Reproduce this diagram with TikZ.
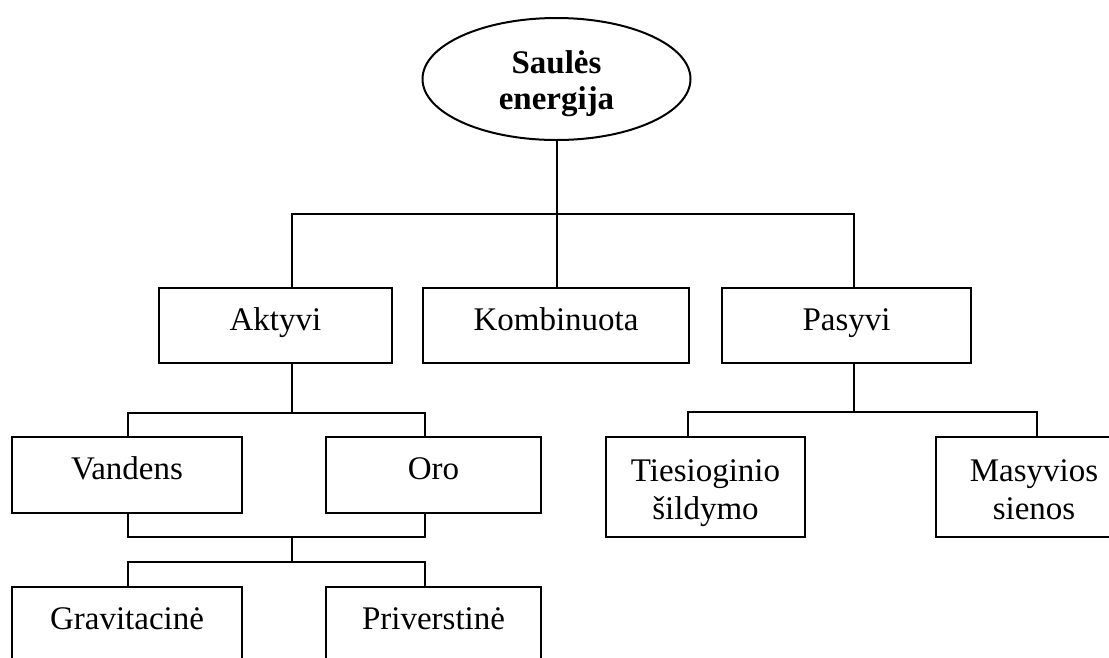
\documentclass[tikz,border=0pt]{standalone}
\usepackage{fontspec}
\setmainfont{Liberation Serif}
\usetikzlibrary{shapes.geometric}

\begin{document}
\begin{tikzpicture}[
    x=1pt, y=-1pt,
    line width=2pt,
    every node/.style={font=\fontsize{33}{38}\selectfont, inner sep=0pt, align=center},
    dezute/.style={draw, rectangle, minimum height=75pt, text height=22pt, text depth=13pt},
    dvieilute/.style={draw, rectangle, minimum height=100pt, text height=70pt, text depth=6pt},
    virsune/.style={draw, ellipse, minimum width=268pt, minimum height=122pt, text height=66pt, text depth=6pt, font=\fontsize{33}{36}\selectfont\bfseries}
]
    \useasboundingbox (0,0) rectangle (1109,657);
    \clip (0,0) rectangle (1109,657);

    \node[virsune] (saule) at (556.5,79) {Saulės\\energija};

    \node[dezute, minimum width=233pt] (aktyvi) at (275.5,325.5) {Aktyvi};
    \node[dezute, minimum width=266pt] (kombinuota) at (556,325.5) {Kombinuota};
    \node[dezute, minimum width=249pt] (pasyvi) at (846.5,325.5) {Pasyvi};

    \node[dezute, minimum width=230pt, minimum height=76pt] (vandens) at (127,475) {Vandens};
    \node[dezute, minimum width=215pt, minimum height=76pt] (oro) at (433.5,475) {Oro};

    \node[dezute, minimum width=230pt] (gravitacine) at (127,624.5) {Gravitacinė};
    \node[dezute, minimum width=215pt] (priverstine) at (433.5,624.5) {Priverstinė};

    \node[dvieilute, minimum width=199pt] (tiesioginio) at (705.5,487) {Tiesioginio\\šildymo};
    \node[dvieilute, minimum width=196pt] (masyvios) at (1034,487) {Masyvios\\sienos};

    \coordinate (s1k) at (292,214);
    \coordinate (s1d) at (854,214);
    \coordinate (s2) at (292,413);
    \coordinate (s2k) at (128,413);
    \coordinate (s2d) at (425,413);
    \coordinate (s3) at (292,537);
    \coordinate (s3k) at (128,537);
    \coordinate (s3d) at (425,537);
    \coordinate (s4) at (292,562);
    \coordinate (s4k) at (128,562);
    \coordinate (s4d) at (425,562);
    \coordinate (s5) at (854,412);
    \coordinate (s5k) at (688,412);
    \coordinate (s5d) at (1037,412);

    \draw (saule.south) -- (saule.south |- kombinuota.north);
    \draw (aktyvi.north -| s1k) -- (s1k) -- (s1d) -- (pasyvi.north -| s1d);

    \draw (aktyvi.south -| s2) -- (s2);
    \draw (vandens.north -| s2k) -- (s2k) -- (s2d) -- (oro.north -| s2d);
    \draw (vandens.south -| s3k) -- (s3k) -- (s3d) -- (oro.south -| s3d);
    \draw (s3) -- (s4);
    \draw (gravitacine.north -| s4k) -- (s4k) -- (s4d) -- (priverstine.north -| s4d);

    \draw (pasyvi.south -| s5) -- (s5);
    \draw (tiesioginio.north -| s5k) -- (s5k) -- (s5d) -- (masyvios.north -| s5d);
\end{tikzpicture}
\end{document}
